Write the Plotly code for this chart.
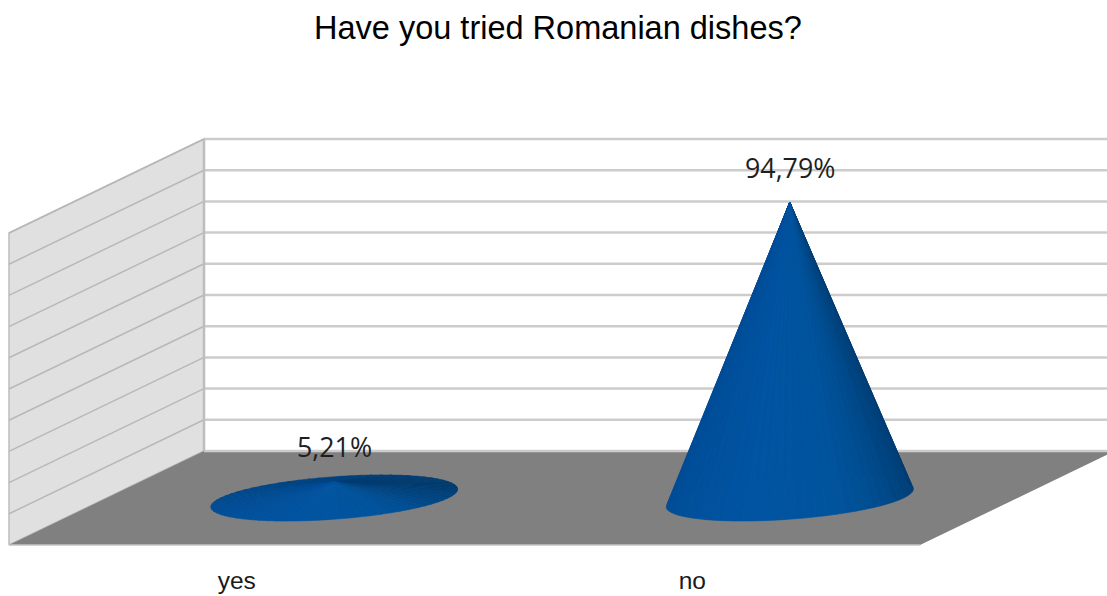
import numpy as np
import plotly.graph_objects as go

title = "Have you tried Romanian dishes?"
categories = ["yes", "no"]
values = [5.21, 94.79]
grid_values = list(range(0, 101, 10))

W, H = 1107, 596
PLOT_BOTTOM = 563
PX_X = 455.5   # pixels per category
PX_Y = 3.12    # pixels per percent
LEFT_PX = 9
FLOOR_BACK_PX = 451
DEP_X = 195 / PX_X
DEP_Y = 94 / PX_Y
R_X = 0.25
R_D = 0.245
N = 72


def proj(i, v, d):
    return i + d * DEP_X, v - (1 - d) * DEP_Y


def shade(deg):
    deg = (deg + 180) % 360 - 180
    angles = [-180, -135, -90, -45, -25, -8, 30, 90, 140, 180]
    g = [0x4a, 0x4f, 0x54, 0x54, 0x4e, 0x46, 0x3a, 0x3f, 0x43, 0x4a]
    b = [0x90, 0x9a, 0xa2, 0x9e, 0x92, 0x84, 0x6e, 0x78, 0x82, 0x90]
    gg = int(np.interp(deg, angles, g))
    bb = int(np.interp(deg, angles, b))
    return f"rgb(0,{gg},{bb})"


fig = go.Figure()


def poly(xs, ys, fill, line=None, lw=0):
    fig.add_trace(go.Scatter(
        x=xs, y=ys, mode="lines", fill="toself", fillcolor=fill,
        line=dict(color=line or fill, width=lw), hoverinfo="skip", showlegend=False,
    ))


def line(xs, ys, color, lw):
    fig.add_trace(go.Scatter(
        x=xs, y=ys, mode="lines", line=dict(color=color, width=lw),
        hoverinfo="skip", showlegend=False,
    ))


L, Rt = -0.5, len(categories) - 0.5
top = grid_values[-1]

# side wall
p = [proj(L, 0, 0), proj(L, top, 0), proj(L, top, 1), proj(L, 0, 1), proj(L, 0, 0)]
poly([a[0] for a in p], [a[1] for a in p], "#e0e0e0", "#bdbdbd", 1.5)

# floor
p = [proj(L, 0, 0), proj(Rt, 0, 0), proj(Rt, 0, 1), proj(L, 0, 1), proj(L, 0, 0)]
poly([a[0] for a in p], [a[1] for a in p], "#808080")

# grid
for v in grid_values:
    a, b, c = proj(L, v, 0), proj(L, v, 1), proj(Rt, v, 1)
    if v > 0:
        line([a[0], b[0]], [a[1], b[1]], "#b8b8b8", 1.5)
    line([b[0], c[0]], [b[1], c[1]], "#cccccc", 2.5)
a, b = proj(L, 0, 0), proj(Rt, 0, 0)
line([a[0], b[0]], [a[1], b[1]], "#c4c4c4", 1.5)
a, b = proj(L, 0, 1), proj(L, top, 1)
line([a[0], b[0]], [a[1], b[1]], "#bdbdbd", 2.5)

# cones
for i, v in enumerate(values):
    ax, ay = proj(i, v, 0.5)
    ts = np.linspace(-np.pi, np.pi, N + 1)
    mids = (ts[:-1] + ts[1:]) / 2
    for k in np.argsort(-np.sin(mids)):
        pts = [proj(i + R_X * np.cos(t), 0, 0.5 + R_D * np.sin(t)) for t in (ts[k], ts[k + 1])]
        col = shade(np.degrees(mids[k]))
        poly([ax, pts[0][0], pts[1][0], ax], [ay, pts[0][1], pts[1][1], ay], col, col, 0.6)

annotations = []
for i, v in enumerate(values):
    ax, ay = proj(i, v, 0.5)
    annotations.append(dict(
        x=ax, y=ay, xref="x", yref="y", text=f"{v:.2f}".replace(".", ",") + "%",
        showarrow=False, xanchor="center", yanchor="middle", yshift=35,
        font=dict(family="Open Sans", size=26.8, color="#1f1f1f"),
    ))

fig.update_layout(
    width=W, height=H, autosize=False,
    margin=dict(l=0, r=0, t=0, b=H - PLOT_BOTTOM),
    paper_bgcolor="white", plot_bgcolor="white",
    showlegend=False,
    title=dict(text=title, x=0.504, xanchor="center", xref="paper",
               y=1 - 28 / H, yanchor="middle", yref="container",
               font=dict(family="Liberation Sans", size=32.5, color="#000000")),
    annotations=annotations,
    xaxis=dict(
        range=[L - LEFT_PX / PX_X, L + (W - LEFT_PX) / PX_X],
        tickmode="array", tickvals=list(range(len(categories))), ticktext=categories,
        showgrid=False, zeroline=False, showline=False, ticks="", fixedrange=True,
        tickfont=dict(family="Liberation Sans", size=24.5, color="#1a1a1a"),
    ),
    yaxis=dict(
        range=[-(PLOT_BOTTOM - FLOOR_BACK_PX) / PX_Y, FLOOR_BACK_PX / PX_Y],
        showgrid=False, zeroline=False, showline=False, showticklabels=False, ticks="",
        fixedrange=True,
    ),
)
fig.write_html("out.html", config={"displayModeBar": False},
               post_script="document.body.style.margin='0';document.documentElement.style.overflow='hidden';")
